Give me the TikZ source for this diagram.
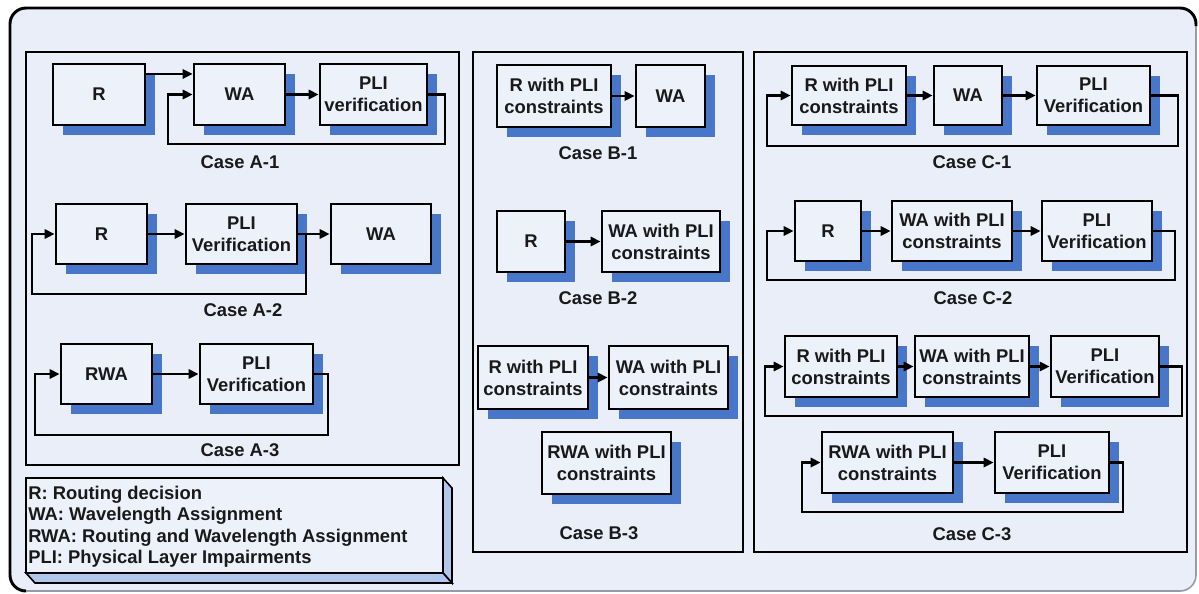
\documentclass[tikz,border=0pt]{standalone}
\usepackage{fontspec}
\setmainfont{Liberation Sans}
\usetikzlibrary{arrows.meta,calc}
\definecolor{bgc}{RGB}{233,238,248}
\definecolor{boxc}{RGB}{237,241,250}
\definecolor{shc}{RGB}{72,118,200}
\definecolor{sidec}{RGB}{176,198,234}
\definecolor{txtc}{RGB}{25,25,25}
\definecolor{rimc}{RGB}{150,155,165}
\newcommand{\cbox}[6]{%
  \fill[shc] (#2+10,#3+10) rectangle (#4+10,#5+10);
  \node[boxst, minimum width={(#4-#2)*0.75pt}, minimum height={(#5-#3)*0.75pt}] (#1) at ({(#2+#4)/2},{(#3+#5)/2}) {#6};
}
\tikzset{
  boxst/.style={draw=black, line width=2.1pt, fill=boxc, inner sep=0pt, align=center, text=txtc,
    font=\fontsize{13.8}{16.5}\selectfont\bfseries},
  arr/.style={draw=black, line width=1.6pt, -{Triangle[length=7.5pt,width=7pt]}},
  panel/.style={draw=black, line width=1.8pt},
  capst/.style={text=txtc, font=\fontsize{13.8}{16.5}\selectfont\bfseries, inner sep=0pt},
  legst/.style={text=txtc, font=\fontsize{13.8}{16.5}\selectfont\bfseries, inner sep=0pt, anchor=base west}
}
\begin{document}
\begin{tikzpicture}[x=0.75pt,y=-0.75pt]
\useasboundingbox (0,0) rectangle (1199,593);
\fill[white] (0,0) rectangle (1199,593);
% outer frame
\fill[bgc, rounded corners=12] (10,8) rectangle (1196,591);
\draw[rimc, line width=1.2pt, rounded corners=12] (10,8) rectangle (1196,591);
\draw[black, line width=2.2pt, rounded corners=12] (26,591) -- (10,591) -- (10,8) -- (1196,8) -- (1196,26);
% panels
\draw[panel] (26,52) rectangle (459,465);
\draw[panel] (473,52) rectangle (743,552);
\draw[panel] (754,52) rectangle (1187,552);
% legend 3D box
\filldraw[fill=sidec, draw=black, line width=1.2pt] (443,478) -- (452,488) -- (452,583) -- (443,573) -- cycle;
\filldraw[fill=sidec, draw=black, line width=1.2pt] (26,573) -- (443,573) -- (452,583) -- (35,583) -- cycle;
\filldraw[fill=boxc, draw=black, line width=1.6pt] (26,478) rectangle (443,573);
\node[legst] (leg1) at (28,499) {R: Routing decision};
\node[legst] (leg2) at (28,520.5) {WA: Wavelength Assignment};
\node[legst] (leg3) at (28,542) {RWA: Routing and Wavelength Assignment};
\node[legst] (leg4) at (28,563.5) {PLI: Physical Layer Impairments};
% ---- Case A-1
\cbox{a1r}{53}{64}{145}{125}{R}
\cbox{a1w}{194}{64}{285}{125}{WA}
\cbox{a1p}{320}{64}{427}{125}{PLI\\verification}
\draw[arr] ([yshift=15.4pt]a1r.east) -- ([yshift=15.4pt]a1w.west);
\draw[arr] (a1w.east) -- (a1p.west);
\coordinate (a1c1) at (445,144);
\coordinate (a1c2) at (168,144);
\draw[arr] (a1p.east) -| (a1c1) -- (a1c2) |- (a1w.west);
\node[capst] (capa1) at (240,162) {Case A-1};
% ---- Case A-2
\cbox{a2r}{56}{204}{147}{264}{R}
\cbox{a2p}{186}{204}{297}{264}{PLI\\Verification}
\cbox{a2w}{331}{204}{431}{264}{WA}
\draw[arr] (a2r.east) -- (a2p.west);
\draw[arr] (a2p.east) -- (a2w.west);
\coordinate (a2c1) at (306,294);
\coordinate (a2c2) at (32,294);
\draw[arr] (a2p.east) -| (a2c1) -- (a2c2) |- (a2r.west);
\node[capst] (capa2) at (243,310) {Case A-2};
% ---- Case A-3
\cbox{a3r}{61}{344}{152}{404}{RWA}
\cbox{a3p}{200}{344}{313}{404}{PLI\\Verification}
\draw[arr] (a3r.east) -- (a3p.west);
\coordinate (a3c1) at (328,435);
\coordinate (a3c2) at (35,435);
\draw[arr] (a3p.east) -| (a3c1) -- (a3c2) |- (a3r.west);
\node[capst] (capa3) at (240,450) {Case A-3};
% ---- Case B-1
\cbox{b1r}{497}{65}{611}{127}{R with PLI\\constraints}
\cbox{b1w}{636}{65}{705}{127}{WA}
\draw[arr] (b1r.east) -- (b1w.west);
\node[capst] (capb1) at (598,153) {Case B-1};
% ---- Case B-2
\cbox{b2r}{497}{211}{565}{272}{R}
\cbox{b2w}{602}{211}{720}{272}{WA with PLI\\constraints}
\draw[arr] (b2r.east) -- (b2w.west);
\node[capst] (capb2) at (598,298) {Case B-2};
% ---- Case B-3
\cbox{b3r}{478}{346}{588}{409}{R with PLI\\constraints}
\cbox{b3w}{609}{346}{728}{409}{WA with PLI\\constraints}
\cbox{b3x}{542}{432}{671}{494}{RWA with PLI\\constraints}
\draw[arr] (b3r.east) -- (b3w.west);
\node[capst] (capb3) at (599,533) {Case B-3};
% ---- Case C-1
\cbox{c1r}{792}{66}{906}{125}{R with PLI\\constraints}
\cbox{c1w}{934}{66}{1002}{125}{WA}
\cbox{c1p}{1037}{66}{1150}{125}{PLI\\Verification}
\draw[arr] (c1r.east) -- (c1w.west);
\draw[arr] (c1w.east) -- (c1p.west);
\coordinate (c1c1) at (1178,146);
\coordinate (c1c2) at (767,146);
\draw[arr] (c1p.east) -| (c1c1) -- (c1c2) |- (c1r.west);
\node[capst] (capc1) at (972,162) {Case C-1};
% ---- Case C-2
\cbox{c2r}{795}{201}{861}{261}{R}
\cbox{c2w}{892}{201}{1012}{261}{WA with PLI\\constraints}
\cbox{c2p}{1042}{201}{1152}{261}{PLI\\Verification}
\draw[arr] (c2r.east) -- (c2w.west);
\draw[arr] (c2w.east) -- (c2p.west);
\coordinate (c2c1) at (1175,280);
\coordinate (c2c2) at (767,280);
\draw[arr] (c2p.east) -| (c2c1) -- (c2c2) |- (c2r.west);
\node[capst] (capc2) at (973,298) {Case C-2};
% ---- Case C-3
\cbox{c3r}{785}{336}{897}{397}{R with PLI\\constraints}
\cbox{c3w}{915}{336}{1029}{397}{WA with PLI\\constraints}
\cbox{c3p}{1051}{336}{1159}{397}{PLI\\Verification}
\draw[arr] (c3r.east) -- (c3w.west);
\draw[arr] (c3w.east) -- (c3p.west);
\coordinate (c3c1) at (1182,416);
\coordinate (c3c2) at (765,416);
\draw[arr] (c3p.east) -| (c3c1) -- (c3c2) |- (c3r.west);
\cbox{c3x}{822}{432}{953}{493}{RWA with PLI\\constraints}
\cbox{c3q}{995}{432}{1109}{493}{PLI\\Verification}
\draw[arr] (c3x.east) -- (c3q.west);
\coordinate (c3d1) at (1123,512);
\coordinate (c3d2) at (802,512);
\draw[arr] (c3q.east) -| (c3d1) -- (c3d2) |- (c3x.west);
\node[capst] (capc3) at (972,534) {Case C-3};
\end{tikzpicture}
\end{document}
